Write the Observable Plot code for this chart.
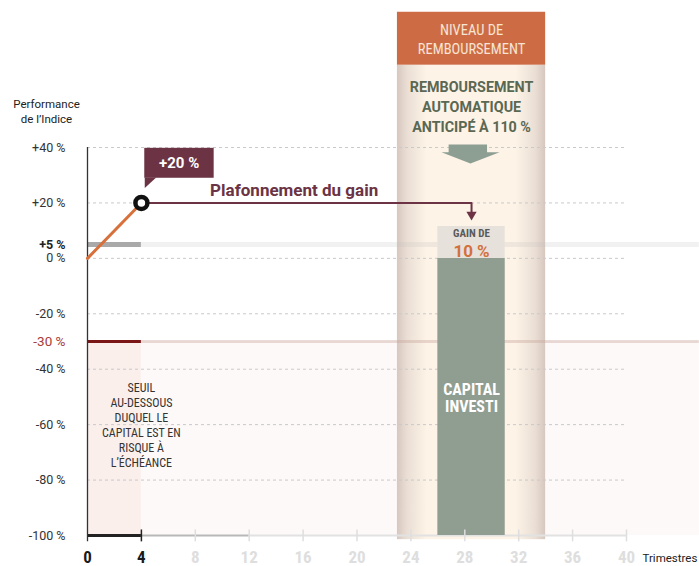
<!DOCTYPE html>
<html><head><meta charset="utf-8">
<script src="https://cdn.jsdelivr.net/npm/d3@7"></script>
<script src="https://cdn.jsdelivr.net/npm/@observablehq/plot@0.6"></script>
<style>body{margin:0;background:#fff} svg{display:block}</style>
</head><body><div id="chart"></div>
<script>
const FONT_C = "'Roboto Condensed','DejaVu Sans Condensed','Liberation Sans Narrow',Roboto,sans-serif";
const FONT_R = "Roboto,'Noto Sans',sans-serif";

// ---- data ----
const xTicks = [0, 4, 8, 12, 16, 20, 24, 28, 32, 36, 40];
const xTickActive = [0, 4];
const yTicks = [40, 20, 0, -20, -40, -60, -80, -100];
const yTickLabels = ["+40 %", "+20 %", "0 %", "-20 %", "-40 %", "-60 %", "-80 %", "-100 %"];
const couponLevel = 5, couponLabel = "+5 %";
const barrierLevel = -30, barrierLabel = "-30 %";
const indexPath = [{q: 0, perf: 0}, {q: 4, perf: 20}];
const capLevel = 20, capLabel = "+20 %";
const observationQuarter = 4;
const recallWindow = [23, 34];
const recallBar = [26, 31];
const gainPct = 10;
const xLabel = "Trimestres";
const yLabel = "Performance\nde l\u2019Indice";
const plafondLabel = "Plafonnement du gain";
const headerLabel = "NIVEAU DE\nREMBOURSEMENT";
const recallLabel = "REMBOURSEMENT\nAUTOMATIQUE\nANTICIP\u00c9 \u00c0 110 %";
const gainLabel1 = "GAIN DE", gainLabel2 = gainPct + " %";
const capitalLabel = "CAPITAL\nINVESTI";
const seuilLabel = "SEUIL\nAU-DESSOUS\nDUQUEL LE\nCAPITAL EST EN\nRISQUE \u00c0\nL\u2019\u00c9CH\u00c9ANCE";

// annotation anchors (data units)
const xMax = 40, xEdge = 45.4, yTop = 40, yBottom = -100;
const colMid = (recallBar[0] + recallBar[1]) / 2;

const chart = Plot.plot({
  width: 699, height: 566,
  marginLeft: 87, marginRight: 73, marginTop: 147, marginBottom: 31,
  x: {domain: [0, xMax], axis: null},
  y: {domain: [yBottom, yTop], axis: null},
  style: {fontFamily: FONT_R, background: "#fff", overflow: "visible"},
  marks: [
    // risk zone below barrier
    Plot.rect([{a: 0, b: observationQuarter}], {x1: "a", x2: "b", y1: yBottom, y2: barrierLevel, fill: "#fbefec"}),
    Plot.rect([{a: observationQuarter, b: xEdge}], {x1: "a", x2: "b", y1: yBottom, y2: barrierLevel, fill: "#fef9f9"}),
    // recall column
    Plot.rect([{a: recallWindow[0], b: recallWindow[1]}], {x1: "a", x2: "b", y1: -101.5, y2: 69.7, fill: "url(#colgrad)"}),
    Plot.rect([{a: recallWindow[0], b: recallWindow[1]}], {x1: "a", x2: "b", y1: 69.7, y2: 88.8, fill: "#cd6c44"}),
    // grid
    Plot.ruleY(yTicks.filter(d => d !== yBottom), {x1: 0, x2: xMax, stroke: "#c9c9c9", strokeDasharray: "3,3", strokeWidth: 1}),
    // coupon band
    Plot.ruleY([couponLevel], {x1: 0, x2: observationQuarter, stroke: "#a9a9a9", strokeWidth: 5}),
    Plot.ruleY([couponLevel], {x1: observationQuarter, x2: xEdge, stroke: "#bdbdbd", strokeOpacity: 0.22, strokeWidth: 5}),
    // barrier
    Plot.ruleY([barrierLevel], {x1: observationQuarter, x2: xEdge, stroke: "#c9a49a", strokeOpacity: 0.4, strokeWidth: 3}),
    Plot.ruleY([barrierLevel], {x1: 0, x2: observationQuarter, stroke: "#7b1616", strokeWidth: 3}),
    // x axis line
    Plot.ruleY([yBottom], {x1: 12, x2: xMax, stroke: "#e2e2e2", strokeWidth: 2}),
    Plot.ruleY([yBottom], {x1: observationQuarter, x2: 12, stroke: "#b8b8b8", strokeWidth: 2}),
    // capital bar & gain
    Plot.rect([{a: recallBar[0], b: recallBar[1]}], {x1: "a", x2: "b", y1: yBottom, y2: 0, fill: "#909d91"}),
    Plot.rect([{a: recallBar[0], b: recallBar[1]}], {x1: "a", x2: "b", y1: 0, y2: 11.5, fill: "#e6e2db"}),
    Plot.ruleY([yBottom], {x1: 0, x2: observationQuarter, stroke: "#222", strokeWidth: 3}),
    // x ticks
    Plot.ruleX(xTicks.filter(d => d > 0), {y1: yBottom - 2.3, y2: yBottom + 2.0, strokeWidth: 1.5,
      stroke: d => xTickActive.includes(d) ? "#222" : "#dedede"}),
    // y axis line
    Plot.ruleX([0], {y1: yBottom - 2.3, y2: yTop, stroke: "#333", strokeWidth: 1.3}),
    // x tick labels
    Plot.text(xTicks, {x: d => d, y: yBottom, dy: 22, text: d => String(d), fontSize: 17, fontWeight: "bold", fontFamily: FONT_C,
      fill: d => xTickActive.includes(d) ? "#1a1a1a" : "#dedede"}),
    Plot.text([xLabel], {x: xMax, y: yBottom, dx: 16, dy: 23, text: d => d, textAnchor: "start", fontSize: 11.5, fill: "#222"}),
    // y tick labels
    Plot.text(yTicks, {x: 0, y: d => d, dx: -22, text: (d, i) => yTickLabels[i], textAnchor: "end", fontSize: 12.5, fill: "#333"}),
    Plot.text([couponLevel], {x: 0, y: d => d, dx: -22, text: () => couponLabel, textAnchor: "end", fontSize: 12.5, fontWeight: "bold", fill: "#222"}),
    Plot.text([barrierLevel], {x: 0, y: d => d, dx: -22, text: () => barrierLabel, textAnchor: "end", fontSize: 13.5, fill: "#a83b3b"}),
    Plot.text([yLabel], {x: 0, y: yTop, dx: -41, dy: -37, text: d => d, fontSize: 11.5, lineHeight: 1.3, fill: "#222"}),
    // index path
    Plot.line(indexPath, {x: "q", y: "perf", stroke: "#d8703c", strokeWidth: 3}),
    // cap line with arrow
    Plot.line([{q: observationQuarter, p: capLevel}, {q: colMid, p: capLevel}, {q: colMid, p: 16.6}],
      {x: "q", y: "p", stroke: "#6b3344", strokeWidth: 2, curve: "linear"}),
    Plot.line([{q: colMid - 0.38, p: 16.8}, {q: colMid + 0.38, p: 16.8}, {q: colMid, p: 13.7}, {q: colMid - 0.38, p: 16.8}],
      {x: "q", y: "p", fill: "#6b3344", stroke: "none"}),
    Plot.dot([indexPath[1]], {x: "q", y: "perf", r: 6, fill: "#fff", stroke: "#111", strokeWidth: 4.5}),
    // callout +20 %
    Plot.rect([{a: 4.25, b: 9.4}], {x1: "a", x2: "b", y1: 28.9, y2: 39.7, fill: "#6b3344"}),
    Plot.line([{q: 4.25, p: 29.2}, {q: 5.1, p: 29.2}, {q: 4.25, p: 25.4}, {q: 4.25, p: 29.2}], {x: "q", y: "p", fill: "#6b3344", stroke: "none"}),
    Plot.text([capLabel], {x: 6.8, y: 34.3, text: d => d, fill: "#fff", fontWeight: "bold", fontSize: 15}),
    Plot.text([plafondLabel], {x: 9.1, y: 24.5, text: d => d, textAnchor: "start", fill: "#6b3344", fontWeight: "bold", fontSize: 17}),
    // column texts
    Plot.text([headerLabel], {x: colMid, y: 79.2, text: d => d, fill: "#f7e4d4", fontSize: 14.5, lineHeight: 1.3, fontFamily: FONT_C}),
    Plot.text([recallLabel], {x: colMid, y: 55.1, text: d => d, fill: "#5a6853", fontWeight: "bold", fontSize: 14.3, lineHeight: 1.42}),
    Plot.line([{q: 26.8, p: 41.1}, {q: 29.65, p: 41.1}, {q: 29.65, p: 38.3}, {q: 30.58, p: 38.3}, {q: 28.42, p: 34.2},
               {q: 26.27, p: 38.3}, {q: 26.8, p: 38.3}, {q: 26.8, p: 41.1}],
      {x: "q", y: "p", fill: "#8d9e92", stroke: "none"}),
    Plot.text([gainLabel1], {x: colMid, y: 9.0, text: d => d, fill: "#5a5a5a", fontWeight: "bold", fontSize: 11, fontFamily: FONT_C}),
    Plot.text([gainLabel2], {x: colMid, y: 2.6, text: d => d, fill: "#d4703f", fontWeight: "bold", fontSize: 17}),
    Plot.text([capitalLabel], {x: colMid, y: -50.3, text: d => d, fill: "#fff", fontWeight: "bold", fontSize: 16, lineHeight: 1.1, fontFamily: FONT_C}),
    // seuil text
    Plot.text([seuilLabel], {x: observationQuarter, y: -60, text: d => d, fill: "#333", fontSize: 12, lineHeight: 1.24, fontFamily: FONT_C})
  ]
});

// gradient for the column edges
const ns = "http://www.w3.org/2000/svg";
const defs = document.createElementNS(ns, "defs");
defs.innerHTML = `<linearGradient id="colgrad" x1="0" x2="1" y1="0" y2="0">
  <stop offset="0" stop-color="#d6c7bf"/>
  <stop offset="0.07" stop-color="#ebdfd5"/>
  <stop offset="0.2" stop-color="#fdf3e6"/>
  <stop offset="0.8" stop-color="#fdf3e6"/>
  <stop offset="0.93" stop-color="#ebdfd5"/>
  <stop offset="1" stop-color="#d6c7bf"/>
</linearGradient>`;
chart.insertBefore(defs, chart.firstChild);
document.getElementById("chart").appendChild(chart);
</script>
</body></html>
